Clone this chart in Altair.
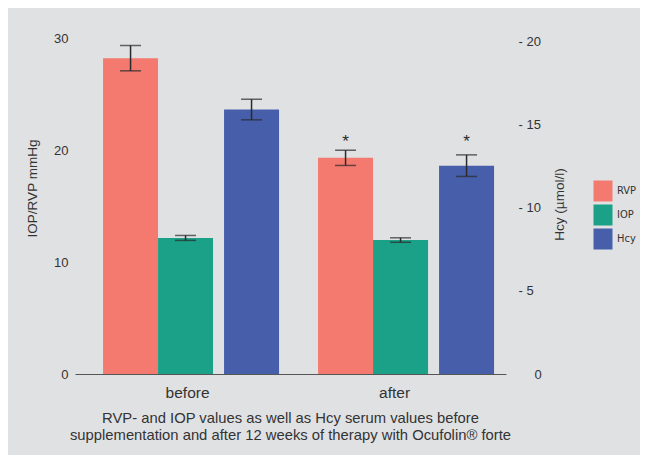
import altair as alt
import pandas as pd

groups = ["before", "after"]
series = ["RVP", "IOP", "Hcy"]
colors = ["#F47A70", "#1AA187", "#475EAA"]

rvp_values = [28.2, 19.3]
rvp_errors = [1.13, 0.68]
iop_values = [12.15, 11.96]
iop_errors = [0.22, 0.2]
hcy_values = [15.93, 12.55]
hcy_errors = [0.62, 0.65]
significance = {"RVP": ["", "*"], "IOP": ["", ""], "Hcy": ["", "*"]}

left_ticks = [0, 10, 20, 30]
right_ticks = [0, 5, 10, 15, 20]
caption = [
    "RVP- and IOP values as well as Hcy serum values before",
    "supplementation and after 12 weeks of therapy with Ocufolin® forte",
]

rows = []
for name, vals, errs in [("RVP", rvp_values, rvp_errors),
                         ("IOP", iop_values, iop_errors),
                         ("Hcy", hcy_values, hcy_errors)]:
    for i, g in enumerate(groups):
        rows.append({"group": g, "series": name, "value": vals[i], "err": errs[i],
                     "lo": vals[i] - errs[i], "hi": vals[i] + errs[i],
                     "sig": significance[name][i]})
df = pd.DataFrame(rows)

TXT = "#333333"
FONT = "Liberation Sans"

xscale = alt.Scale(domain=groups, paddingInner=0.2326, paddingOuter=0.1186, align=0.55)
xaxis = alt.Axis(title=None, domain=True, domainColor="#555555", domainWidth=1,
                 ticks=False, labelFontSize=15.5, labelPadding=11, labelColor=TXT,
                 labelAngle=0, grid=False,
                 labelOffset={"condition": {"test": "datum.value === 'after'", "value": -6}, "value": 2})
off_l = alt.Scale(domain=series, paddingInner=0, paddingOuter=0)
off_r = alt.Scale(domain=series, paddingInner=0, paddingOuter=0, range=[11, 176])


def xenc():
    return alt.X("group:N", sort=groups, scale=xscale, axis=xaxis, title=None)


def xoff(sc):
    return alt.XOffset("series:N", sort=series, scale=sc)


lscale = alt.Scale(domain=[0, 30], nice=False, zero=True)
rscale = alt.Scale(domain=[0, 20.24], nice=False, zero=True)

left_axis = alt.Axis(title="IOP/RVP mmHg", values=left_ticks, domain=False, ticks=False,
                     grid=False, labelPadding=7, labelFontSize=13, labelColor=TXT,
                     titleFontSize=13.5, titleFontWeight="normal", titleColor=TXT,
                     titleAngle=270, titleAlign="center", titleBaseline="alphabetic",
                     titleX=-39, titleY=150)
right_axis = alt.Axis(title="Hcy (µmol/l)", orient="right", values=right_ticks, domain=False,
                      ticks=False, grid=False, labelFontSize=13, labelColor=TXT,
                      labelExpr="datum.value == 0 ? '0' : '- ' + datum.label",
                      labelPadding={"condition": {"test": "datum.value === 0", "value": 28}, "value": 12},
                      titleFontSize=13.5, titleFontWeight="normal", titleColor=TXT,
                      titleAngle=270, titleAlign="center", titleBaseline="alphabetic",
                      titleX=57, titleY=166)

legend = alt.Legend(title=None, orient="none", legendX=518, legendY=143,
                    symbolType="M-0.95,-1.05H0.95V1.05H-0.95Z",
                    symbolSize=400, symbolStrokeWidth=0,
                    labelFont="'Liberation Sans Narrow', 'DejaVu Sans Condensed', 'Liberation Sans', sans-serif",
                    labelFontSize=11,
                    labelColor=TXT, labelOffset=4, rowPadding=2, padding=0)
color = alt.Color("series:N", scale=alt.Scale(domain=series, range=colors), legend=legend)

base_l = alt.Chart(df).transform_filter("datum.series != 'Hcy'")
base_r = alt.Chart(df).transform_filter("datum.series == 'Hcy'")

EB = "#2a2a2a"


def group_layers(base, sc, yscale, yaxis, star_dy):
    bars = base.mark_bar().encode(x=xenc(), xOffset=xoff(sc),
                                  y=alt.Y("value:Q", scale=yscale, axis=yaxis),
                                  color=color)
    rule = base.mark_rule(color=EB, strokeWidth=1.5).encode(
        x=xenc(), xOffset=xoff(sc), y=alt.Y("lo:Q", scale=yscale, axis=yaxis), y2="hi:Q")
    cap_lo = base.mark_tick(color=EB, size=21, thickness=1.5, orient="horizontal").encode(
        x=xenc(), xOffset=xoff(sc), y=alt.Y("lo:Q", scale=yscale, axis=yaxis))
    cap_hi = base.mark_tick(color=EB, size=21, thickness=1.5, orient="horizontal").encode(
        x=xenc(), xOffset=xoff(sc), y=alt.Y("hi:Q", scale=yscale, axis=yaxis))
    star = base.transform_filter("datum.sig != ''").mark_text(
        color=EB, fontSize=17, baseline="middle", dy=star_dy).encode(
        x=xenc(), xOffset=xoff(sc), y=alt.Y("hi:Q", scale=yscale, axis=yaxis), text="sig:N")
    return alt.layer(bars, rule, cap_lo, cap_hi, star)


left = group_layers(base_l, off_l, lscale, left_axis, -8)
right = group_layers(base_r, off_r, rscale, right_axis, -13)

chart = alt.layer(left, right).resolve_scale(y="independent", xOffset="independent").properties(
    width=431, height=336,
    autosize=alt.AutoSizeParams(type="none"),
    padding={"left": 67, "top": 30, "right": 134, "bottom": 81},
    background="#E0E1E3",
    title=alt.TitleParams(text=caption, orient="bottom", anchor="middle", fontSize=14.8,
                          fontWeight="normal", color=TXT, lineHeight=17, offset=10, font=FONT),
).configure(font=FONT).configure_view(stroke=None)

chart.save("out.html", embed_options={"renderer": "svg", "actions": False})
